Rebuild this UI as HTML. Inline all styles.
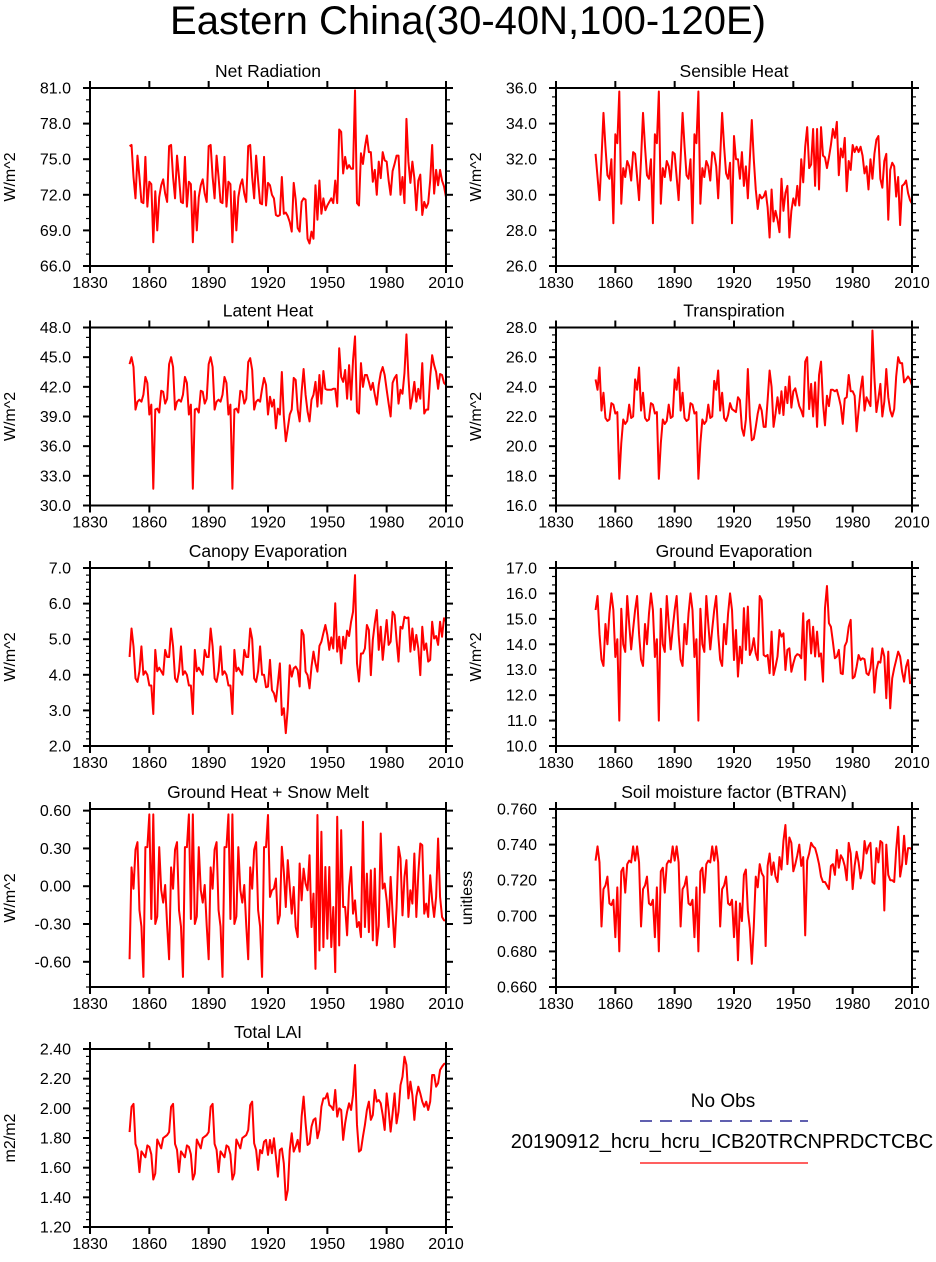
<!DOCTYPE html>
<html>
<head>
<meta charset="utf-8">
<style>
html,body{margin:0;padding:0;background:#fff;}
svg{display:block;font-family:"Liberation Sans",Arial,sans-serif;}
</style>
</head>
<body>
<svg id="fig" width="936" height="1262" viewBox="0 0 936 1262" xmlns="http://www.w3.org/2000/svg">
<rect x="0" y="0" width="936" height="1262" fill="#fff"/>
<text x="468" y="34" text-anchor="middle" font-size="40" fill="#000">Eastern China(30-40N,100-120E)</text>
<g>
<text x="723" y="1107" text-anchor="middle" font-size="19">No Obs</text>
<line x1="640" y1="1121" x2="808" y2="1121" stroke="#000080" stroke-width="1.2" stroke-dasharray="12,8"/>
<text x="722" y="1148" text-anchor="middle" font-size="20">20190912_hcru_hcru_ICB20TRCNPRDCTCBC</text>
<line x1="640" y1="1163" x2="808" y2="1163" stroke="#ff0000" stroke-width="1.2"/>
</g>
</svg>
<script>
const startYear = 1850;
const xTicks = [1830,1860,1890,1920,1950,1980,2010];

const netRad = [76.1,76.2,73.5,71.7,75.3,73.5,71.4,71.3,75.2,71.0,73.1,72.9,68.0,72.3,69.0,71.8,72.8,73.3,72.1,71.4,
76.1,76.2,73.5,71.7,75.3,73.5,71.4,71.3,75.2,71.0,73.1,72.9,68.0,72.3,69.0,71.8,72.8,73.3,72.1,71.4,
76.1,76.2,73.5,71.7,75.3,73.5,71.4,71.3,75.2,71.0,73.1,72.9,68.0,72.3,69.0,71.8,72.8,73.3,72.1,71.4,
76.1,76.2,73.5,71.7,75.3,73.2,71.3,71.2,75.2,71.1,
73.0,72.8,72.0,71.7,70.3,70.2,70.3,73.5,70.4,70.5,
70.2,69.7,68.9,73.0,71.6,69.2,68.9,71.4,71.7,71.6,
68.3,67.9,68.9,68.3,72.8,69.9,73.2,70.4,71.7,70.7,
71.1,71.4,71.7,71.3,73.2,71.3,77.5,77.3,73.8,75.2,
74.2,74.5,74.2,74.2,80.8,71.3,71.1,75.5,74.6,76.0,
77.0,75.6,75.6,73.1,74.1,72.0,74.8,73.4,75.6,74.9,
74.8,73.2,72.0,74.0,74.6,75.3,75.3,72.0,73.5,71.3,
78.4,74.8,73.0,74.8,73.4,70.7,73.2,73.7,70.3,71.4,
70.9,71.3,73.2,76.2,72.1,74.1,72.8,74.1,73.2,72.7,71.8];
const netRadTicks = ["66.0","69.0","72.0","75.0","78.0","81.0"];

const sensHeat = [32.3,31.0,29.7,32.0,34.6,32.7,31.1,30.9,32.0,28.4,33.4,32.9,35.8,29.5,31.5,31.0,31.9,31.6,30.8,32.4,
32.3,31.0,29.7,32.0,34.6,32.7,31.1,30.9,32.0,28.4,33.4,32.9,35.8,29.5,31.5,31.0,31.9,31.6,30.8,32.4,
32.3,31.0,29.7,32.0,34.6,32.7,31.1,30.9,32.0,28.4,33.4,32.9,35.8,29.5,31.5,31.0,31.9,31.6,30.8,32.4,
32.3,31.6,29.8,32.1,34.6,32.7,31.2,30.9,31.8,28.4,
33.3,32.0,32.0,30.9,32.4,30.5,31.6,29.8,32.0,34.2,
32.0,30.3,29.2,30.0,29.8,29.9,30.2,29.3,27.6,30.3,
28.5,29.1,28.6,27.9,30.9,29.1,30.1,30.5,27.6,29.1,
29.8,29.4,30.5,29.4,32.0,30.7,32.7,33.8,31.5,31.7,
33.7,30.5,33.7,30.3,33.8,32.2,32.1,31.5,32.1,32.8,
33.7,33.2,34.1,31.1,32.6,32.1,33.2,30.2,31.9,31.4,
32.8,32.4,32.7,32.4,32.7,32.2,31.2,31.6,30.3,32.0,
30.9,32.3,33.1,33.3,30.9,30.4,31.9,32.3,28.6,31.4,
31.8,31.6,29.9,31.0,28.3,30.5,30.6,30.8,30.1,29.7,29.5];
const sensHeatTicks = ["26.0","28.0","30.0","32.0","34.0","36.0"];

const latHeat = [44.3,45.0,44.0,39.7,40.5,40.7,40.5,41.2,43.0,42.4,39.2,40.2,31.7,39.7,39.8,39.4,41.6,41.5,40.3,40.8,
44.3,45.0,44.0,39.7,40.5,40.7,40.5,41.2,43.0,42.4,39.2,40.2,31.7,39.7,39.8,39.4,41.6,41.5,40.3,40.8,
44.3,45.0,44.0,39.7,40.5,40.7,40.5,41.2,43.0,42.4,39.2,40.2,31.7,39.7,39.8,39.4,41.6,41.5,40.3,40.8,
44.5,44.9,43.7,39.7,40.5,40.7,40.5,41.8,42.9,42.2,
39.2,41.0,40.0,40.7,37.8,39.8,39.2,43.5,39.0,36.5,
37.8,39.2,39.7,42.9,42.7,39.7,38.5,41.5,43.8,41.2,
39.5,38.5,40.7,41.2,42.5,40.0,43.2,40.3,43.6,41.8,
41.7,41.7,41.7,41.8,41.8,40.0,45.9,43.0,42.5,43.7,
40.8,44.2,40.7,44.7,47.1,39.5,39.3,44.4,42.0,43.2,
43.2,42.5,41.7,42.4,41.2,40.2,42.2,43.4,44.0,43.2,
41.7,40.3,39.0,42.4,42.9,43.2,40.3,41.7,41.3,43.4,
47.3,43.0,39.8,41.0,42.5,40.5,41.8,40.8,44.4,39.3,
39.7,39.7,43.0,45.2,44.2,43.5,41.8,43.3,43.2,42.4,42.2];
const latHeatTicks = ["30.0","33.0","36.0","39.0","42.0","45.0","48.0"];

const transp = [24.5,23.8,25.3,22.4,23.6,21.9,21.7,21.8,22.9,22.8,22.2,22.3,17.8,20.2,21.8,21.5,21.7,22.8,21.9,22.0,
24.5,23.8,25.3,22.4,23.6,21.9,21.7,21.8,22.9,22.8,22.2,22.3,17.8,20.2,21.8,21.5,21.7,22.8,21.9,22.0,
24.5,23.8,25.3,22.4,23.6,21.9,21.7,21.8,22.9,22.8,22.2,22.3,17.8,20.2,21.8,21.5,21.7,22.8,21.9,22.0,
24.4,23.8,25.1,22.4,23.6,21.9,21.7,22.1,22.9,22.5,
22.4,22.3,23.3,23.1,21.2,20.7,21.8,25.2,22.0,20.4,
20.5,21.3,22.2,22.8,22.4,21.3,21.3,23.1,25.1,24.0,
21.3,22.2,23.3,22.2,23.7,22.1,24.0,22.9,24.7,22.6,
23.7,23.9,23.3,22.7,22.4,22.0,25.7,26.0,22.5,24.2,
22.0,24.3,21.3,24.8,25.7,22.9,21.4,23.4,22.7,23.8,
23.8,23.7,23.8,23.3,22.7,21.5,23.2,23.3,24.8,23.7,
23.7,23.4,21.0,22.4,23.8,24.7,22.4,23.3,23.0,22.7,
27.8,24.6,22.3,23.2,24.2,22.0,23.0,25.2,23.3,22.4,
22.0,22.5,24.7,26.0,25.6,25.6,24.3,24.5,24.7,24.5,24.1];
const transpTicks = ["16.0","18.0","20.0","22.0","24.0","26.0","28.0"];

const canEvap = [4.5,5.3,4.8,3.9,3.8,4.1,4.8,4.0,4.1,4.0,3.7,3.7,2.9,4.7,4.1,4.2,4.1,4.0,4.7,4.5,
4.5,5.3,4.8,3.9,3.8,4.1,4.8,4.0,4.1,4.0,3.7,3.7,2.9,4.7,4.1,4.2,4.1,4.0,4.7,4.5,
4.5,5.3,4.8,3.9,3.8,4.1,4.8,4.0,4.1,4.0,3.7,3.7,2.9,4.7,4.1,4.2,4.1,4.0,4.7,4.5,
4.5,5.3,5.0,3.9,3.8,4.1,4.8,4.0,4.0,3.65,
3.67,4.42,3.57,3.48,3.25,3.76,4.32,2.87,3.06,2.36,
3.06,4.27,3.95,4.18,4.23,4.13,3.67,5.26,5.12,4.09,
3.99,3.62,4.23,4.65,4.32,4.09,4.81,4.93,5.17,5.40,
5.12,4.70,5.05,4.74,6.01,4.65,5.07,4.32,5.07,4.74,
5.24,5.09,5.49,5.77,6.80,4.32,3.81,4.60,4.60,4.74,
5.40,5.26,3.99,4.98,5.45,5.82,4.70,5.35,4.42,4.98,
5.54,4.84,4.93,5.77,5.68,4.98,4.37,5.35,5.30,5.63,
5.59,5.61,4.65,5.30,4.70,5.12,4.74,3.99,5.35,4.70,
4.88,4.37,4.42,5.49,5.02,5.09,4.84,5.49,5.07,5.59,5.50];
const canEvapTicks = ["2.0","3.0","4.0","5.0","6.0","7.0"];

const grdEvap = [15.35,15.9,14.4,13.4,13.15,14.8,14.0,15.2,16.0,15.35,13.5,14.2,11.0,15.4,14.0,13.7,15.9,14.8,13.8,14.6,
15.35,15.9,14.4,13.4,13.15,14.8,14.0,15.2,16.0,15.35,13.5,14.2,11.0,15.4,14.0,13.7,15.9,14.8,13.8,14.6,
15.35,15.9,14.4,13.4,13.15,14.8,14.0,15.2,16.0,15.35,13.5,14.2,11.0,15.4,14.0,13.7,15.9,14.8,13.8,14.6,
15.35,15.9,14.4,13.4,13.15,14.8,14.0,15.2,16.0,15.35,
13.38,14.56,12.73,13.91,13.25,15.42,13.78,15.48,13.58,13.78,
14.24,13.64,13.38,15.9,15.74,13.58,13.52,13.58,12.86,14.5,
12.79,13.12,13.52,14.56,14.3,14.43,12.99,13.78,13.84,12.92,
13.25,13.52,13.61,13.58,13.45,15.22,12.6,14.89,14.96,13.64,
14.69,13.52,14.5,13.52,13.64,12.53,15.42,16.29,14.83,14.69,
14.1,13.45,13.52,13.78,12.86,12.83,13.93,14.1,14.69,14.96,
12.66,12.73,13.12,13.58,13.38,13.45,13.41,12.86,12.79,13.06,
13.84,12.1,12.99,13.32,13.28,13.84,13.52,11.88,13.71,11.48,
12.66,13.06,13.38,13.71,13.52,12.92,12.53,13.12,13.38,12.47,12.53];
const grdEvapTicks = ["10.0","11.0","12.0","13.0","14.0","15.0","16.0","17.0"];

const grdHeat = [-0.58,0.15,-0.02,0.29,0.35,-0.19,-0.32,-0.72,0.31,0.31,0.57,-0.26,0.57,-0.30,-0.24,0.31,-0.03,-0.13,0.01,-0.31,
-0.58,0.15,-0.02,0.29,0.35,-0.19,-0.32,-0.72,0.31,0.31,0.57,-0.26,0.57,-0.30,-0.24,0.31,-0.03,-0.13,0.01,-0.31,
-0.58,0.15,-0.02,0.29,0.35,-0.19,-0.32,-0.72,0.31,0.31,0.57,-0.26,0.57,-0.30,-0.24,0.31,-0.03,-0.13,0.01,-0.31,
-0.58,0.15,-0.02,0.29,0.35,-0.19,-0.32,-0.72,0.31,0.31,
0.565,-0.085,-0.032,-0.019,0.061,-0.297,-0.231,0.313,0.114,-0.165,
0.207,-0.006,-0.218,-0.006,-0.324,-0.404,0.18,-0.112,0.14,0.021,
-0.032,0.246,-0.324,-0.059,-0.656,0.565,-0.51,0.432,-0.483,0.153,
-0.417,0.153,-0.483,-0.165,-0.682,0.551,-0.47,0.445,-0.165,-0.165,
-0.39,-0.006,0.153,-0.218,-0.112,-0.324,-0.284,-0.404,0.512,-0.324,
0.1,-0.364,0.127,-0.43,0.14,-0.47,-0.311,0.419,-0.019,0.021,
-0.112,-0.324,0.074,-0.218,-0.483,-0.165,0.313,0.22,-0.231,0.074,
0.207,-0.244,-0.032,-0.138,0.26,-0.244,0.1,0.339,0.326,-0.218,
-0.138,-0.244,0.087,-0.112,-0.244,-0.085,0.379,-0.085,-0.244,-0.271,-0.271];
const grdHeatTicks = ["-0.60","-0.30","0.00","0.30","0.60"];

const btran = [0.731,0.739,0.730,0.694,0.715,0.717,0.722,0.707,0.706,0.709,0.688,0.716,0.680,0.725,0.727,0.713,0.729,0.731,0.730,0.739,
0.731,0.739,0.730,0.694,0.715,0.717,0.722,0.707,0.706,0.709,0.688,0.716,0.680,0.725,0.727,0.713,0.729,0.731,0.730,0.739,
0.731,0.739,0.730,0.694,0.715,0.717,0.722,0.707,0.706,0.709,0.688,0.716,0.680,0.725,0.727,0.713,0.729,0.731,0.730,0.739,
0.731,0.739,0.730,0.694,0.715,0.717,0.722,0.707,0.706,0.709,
0.688,0.708,0.675,0.707,0.697,0.723,0.726,0.703,0.693,0.673,
0.694,0.722,0.716,0.729,0.724,0.722,0.683,0.728,0.735,0.723,
0.730,0.722,0.719,0.733,0.726,0.742,0.751,0.729,0.744,0.741,
0.725,0.729,0.734,0.740,0.728,0.733,0.689,0.731,0.735,0.741,
0.739,0.738,0.734,0.729,0.722,0.719,0.719,0.717,0.715,0.728,
0.729,0.723,0.737,0.727,0.734,0.732,0.728,0.720,0.741,0.735,
0.715,0.728,0.736,0.730,0.721,0.726,0.742,0.735,0.739,0.741,
0.719,0.718,0.738,0.730,0.742,0.741,0.703,0.740,0.723,0.720,
0.720,0.719,0.737,0.750,0.722,0.729,0.745,0.729,0.738,0.738,0.737];
const btranTicks = ["0.660","0.680","0.700","0.720","0.740","0.760"];

const lai = [1.84,2.01,2.03,1.76,1.72,1.57,1.71,1.69,1.67,1.75,1.74,1.69,1.52,1.56,1.79,1.76,1.73,1.80,1.81,1.82,
1.84,2.01,2.03,1.76,1.72,1.57,1.71,1.69,1.67,1.75,1.74,1.69,1.52,1.56,1.79,1.76,1.73,1.80,1.81,1.82,
1.84,2.01,2.03,1.76,1.72,1.57,1.71,1.69,1.67,1.75,1.74,1.69,1.52,1.56,1.79,1.76,1.73,1.80,1.81,1.82,
1.854,2.022,2.045,1.764,1.719,1.585,1.719,1.697,1.775,1.787,
1.686,1.787,1.697,1.798,1.674,1.539,1.719,1.730,1.629,1.382,
1.449,1.719,1.832,1.708,1.742,1.787,1.708,1.944,2.079,1.899,
1.753,1.764,1.877,1.922,1.933,1.798,1.854,2.011,2.067,2.067,
2.101,2.022,2.011,1.989,2.124,1.944,2.0,1.989,1.787,1.899,
1.978,2.034,1.989,2.09,2.292,1.888,1.708,1.719,1.809,1.888,
1.989,2.045,1.922,1.955,2.124,2.045,2.056,2.034,1.955,1.854,
2.101,1.989,1.843,1.966,2.101,1.899,1.978,2.157,2.213,2.348,
2.292,2.067,2.18,2.09,1.922,2.079,2.146,2.101,2.045,2.011,
2.045,1.989,2.045,2.225,2.225,2.146,2.169,2.258,2.281,2.299,2.303];
const laiTicks = ["1.20","1.40","1.60","1.80","2.00","2.20","2.40"];

const NS = "http://www.w3.org/2000/svg";
const svg = document.getElementById('fig');
function mk(tag, attrs, parent){
  const e = document.createElementNS(NS, tag);
  for (const k in attrs) e.setAttribute(k, attrs[k]);
  (parent||svg).appendChild(e);
  return e;
}

function panel(name, title, ytitle, values, ticks, ymin, ymax, minorStep, px, py){
  const w = 356, h = 178;
  const g = mk('g', {});
  
  
  const xs = v => px + (v - 1830) / 180 * w;
  const ys = v => py + h - (v - ymin) / (ymax - ymin) * h;
  let d = '';
  values.forEach((v, i) => { d += (i ? 'L' : 'M') + xs(startYear + i).toFixed(2) + ',' + ys(v).toFixed(2); });
  const line = mk('path', {d: d, fill: 'none', stroke: '#ff0000', 'stroke-width': 2, 'stroke-linejoin': 'round'}, g);
  
  
  const frame = mk('rect', {x: px, y: py, width: w, height: h, fill: 'none', stroke: '#000', 'stroke-width': 2}, g);
  
  
  xTicks.forEach(t => {
    const x = xs(t);
    mk('line', {x1: x, y1: py + h, x2: x, y2: py + h + 7, stroke: '#000', 'stroke-width': 2}, g);
    mk('line', {x1: x, y1: py, x2: x, y2: py - 7, stroke: '#000', 'stroke-width': 2}, g);
    const lb = mk('text', {x: x, y: py + h + 22, 'text-anchor': 'middle', 'font-size': 16}, g);
    lb.textContent = t;
    
    
  });
  const nMinor = Math.round((ymax - ymin) / minorStep);
  for (let k = 0; k <= nMinor; k++) {
    const y = ys(ymin + k * minorStep);
    if (y < py - 0.5) continue;
    mk('line', {x1: px, y1: y, x2: px - 4, y2: y, stroke: '#000', 'stroke-width': 1.2}, g);
    mk('line', {x1: px + w, y1: y, x2: px + w + 4, y2: y, stroke: '#000', 'stroke-width': 1.2}, g);
  }
  ticks.forEach(t => {
    const y = ys(parseFloat(t));
    mk('line', {x1: px, y1: y, x2: px - 7, y2: y, stroke: '#000', 'stroke-width': 2}, g);
    mk('line', {x1: px + w, y1: y, x2: px + w + 7, y2: y, stroke: '#000', 'stroke-width': 2}, g);
    const lb = mk('text', {x: px - 19, y: y + 5.5, 'text-anchor': 'end', 'font-size': 16}, g);
    lb.textContent = t;
    
    
  });
  const tt = mk('text', {x: px + w / 2, y: py - 11, 'text-anchor': 'middle', 'font-size': 17.5}, g);
  tt.textContent = title;
  
  
  const yx = ytitle === 'unitless' ? px - 84 : px - 75;
  const yt = mk('text', {x: yx, y: py + h / 2, 'text-anchor': 'middle', 'font-size': 16, transform: 'rotate(-90 ' + yx + ' ' + (py + h / 2) + ')'}, g);
  yt.textContent = ytitle;
  
  
}

const L = 90, R = 556;
const rowsY = [88, 327.5, 568, 809, 1049];
panel('net-radiation', 'Net Radiation', 'W/m^2', netRad, netRadTicks, 66, 81, 1, L, rowsY[0]);
panel('sensible-heat', 'Sensible Heat', 'W/m^2', sensHeat, sensHeatTicks, 26, 36, 0.5, R, rowsY[0]);
panel('latent-heat', 'Latent Heat', 'W/m^2', latHeat, latHeatTicks, 30, 48, 1, L, rowsY[1]);
panel('transpiration', 'Transpiration', 'W/m^2', transp, transpTicks, 16, 28, 0.5, R, rowsY[1]);
panel('canopy-evaporation', 'Canopy Evaporation', 'W/m^2', canEvap, canEvapTicks, 2, 7, 0.2, L, rowsY[2]);
panel('ground-evaporation', 'Ground Evaporation', 'W/m^2', grdEvap, grdEvapTicks, 10, 17, 1/3, R, rowsY[2]);
panel('ground-heat', 'Ground Heat + Snow Melt', 'W/m^2', grdHeat, grdHeatTicks, -0.8, 0.613, 0.1, L, rowsY[3]);
panel('soil-moisture', 'Soil moisture factor (BTRAN)', 'unitless', btran, btranTicks, 0.66, 0.76, 0.005, R, rowsY[3]);
panel('total-lai', 'Total LAI', 'm2/m2', lai, laiTicks, 1.2, 2.4, 0.05, L, rowsY[4]);
</script>
</body>
</html>
